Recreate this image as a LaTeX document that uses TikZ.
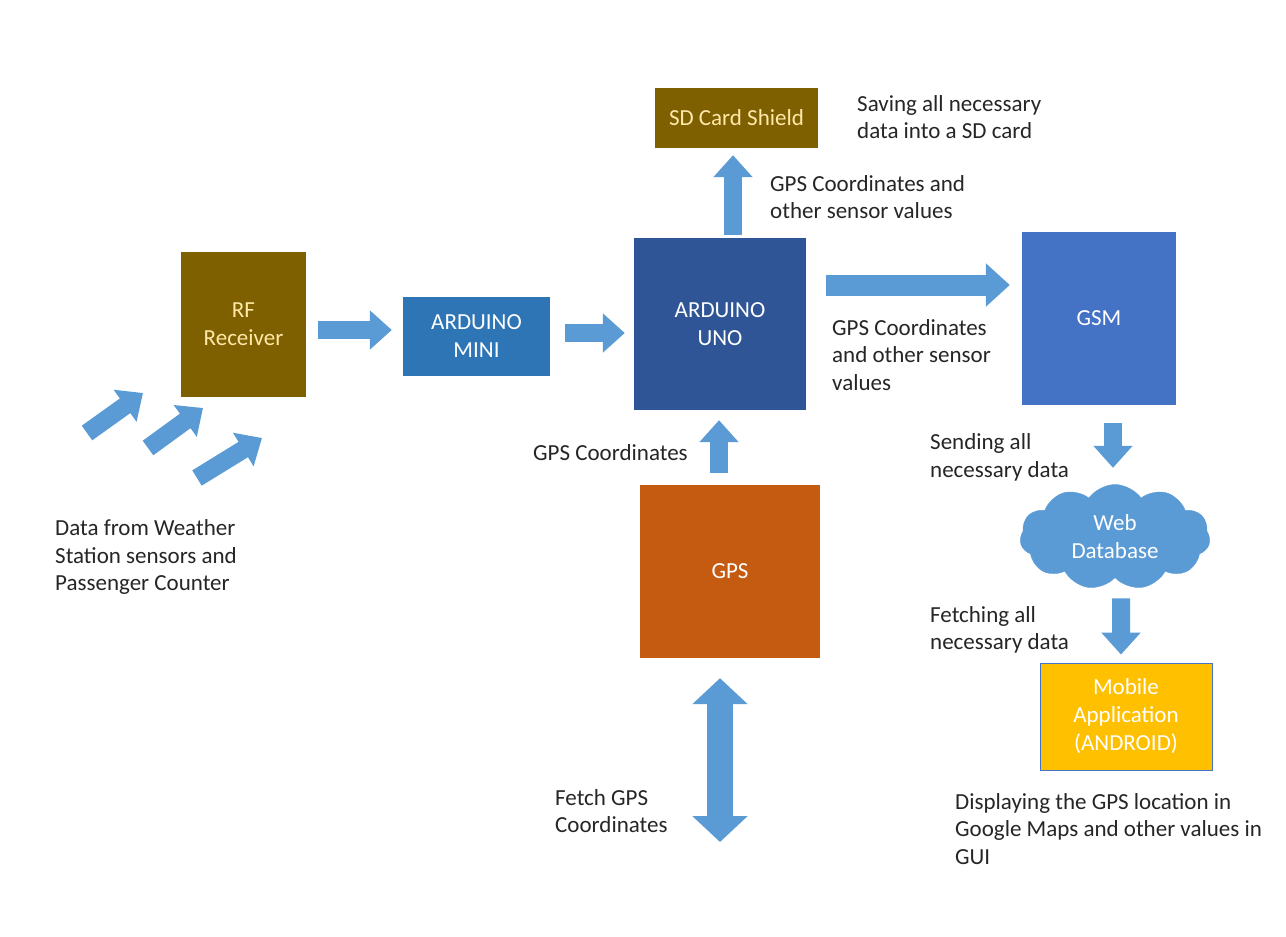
\documentclass[tikz,border=0pt]{standalone}
\usepackage{fontspec}
\setmainfont{Carlito}
\usetikzlibrary{arrows.meta,shapes.symbols,calc}
\definecolor{cbrown}{HTML}{7F6000}
\definecolor{cmini}{HTML}{2E75B6}
\definecolor{cuno}{HTML}{2F5597}
\definecolor{cgsm}{HTML}{4472C4}
\definecolor{cgps}{HTML}{C55A11}
\definecolor{cmob}{HTML}{FFC000}
\definecolor{ccloud}{HTML}{5B9BD5}
\definecolor{carrow}{HTML}{5B9BD5}
\definecolor{ctxt}{HTML}{262626}
\definecolor{cytxt}{HTML}{FFE8A8}
\tikzset{
  box/.style={rectangle, inner sep=0pt, align=center, font=\fontsize{23}{28}\selectfont},
  lbl/.style={anchor=west, inner sep=0pt, align=left, text=ctxt, font=\fontsize{23}{27.5}\selectfont},
  ba/.style={draw=carrow, line width=18pt, -{Triangle[width=38pt,length=22pt]}},
  bab/.style={draw=carrow, line width=21pt, -{Triangle[width=42pt,length=24pt]}},
}
\begin{document}
\begin{tikzpicture}[x=1pt,y=-1pt]
\useasboundingbox (0,0) rectangle (1286,937);
\fill[white] (0,0) rectangle (1286,937);
% boxes
\node[box, fill=cbrown, text=cytxt, minimum width=163pt, minimum height=60pt] (sd) at (736.5,118) {SD Card Shield};
\node[box, fill=cbrown, text=cytxt, minimum width=125pt, minimum height=145pt] (rf) at (243.5,324.5) {RF\\Receiver};
\node[box, fill=cmini, text=white, minimum width=147pt, minimum height=79pt] (mini) at (476.5,336.5) {ARDUINO\\MINI};
\node[box, fill=cuno, text=white, minimum width=172pt, minimum height=172pt] (uno) at (720,324) {ARDUINO\\UNO};
\node[box, fill=cgsm, text=white, minimum width=154pt, minimum height=173pt] (gsm) at (1099,318.5) {GSM};
\node[box, fill=cgps, text=white, minimum width=180pt, minimum height=173pt] (gps) at (730,571.5) {GPS};
\node[box, fill=cmob, draw=cgsm, line width=0.8pt, text=white, minimum width=172pt, minimum height=107pt] (mob) at (1126,716.5) {Mobile\\Application\\(ANDROID)};
\node[cloud, cloud puffs=11, cloud puff arc=110, aspect=1.8, fill=ccloud, draw=ccloud, text=white, inner sep=0pt, minimum width=190pt, minimum height=105pt, align=center, font=\fontsize{23}{28}\selectfont] (cloud) at (1115,537) {Web\\Database};
% arrows
\draw[ba] ($(rf.east)+(12,5.5)$) -- ($(mini.west)+(-11,-6.5)$);
\draw[ba] ($(mini.east)+(15,-3.5)$) -- ($(uno.west)+(-9,9)$);
\draw[bab] ($(uno.east)+(20,-39)$) -- ($(gsm.west)+(-12,-33.5)$);
\draw[ba] ($(uno.north)+(13,-3)$) -- ($(sd.south)+(-3.5,7)$);
\draw[ba] ($(gps.north)+(-11,-12)$) -- ($(uno.south)+(-1,10)$);
\draw[ba] ($(gsm.south)+(14,18)$) -- ($(cloud.north)+(-2,-16.5)$);
\draw[ba] ($(cloud.south)+(6,20.5)$) -- ($(mob.north)+(-5,-8)$);
\coordinate (fetch) at (720,842);
\draw[draw=carrow, line width=26pt, {Triangle[width=54pt,length=26pt]}-{Triangle[width=54pt,length=26pt]}] ($(gps.south)+(-10,20)$) -- (fetch);
\coordinate (s1a) at (87,433); \coordinate (s1b) at (143,393);
\coordinate (s2a) at (148,448); \coordinate (s2b) at (203,408);
\coordinate (s3a) at (197,478); \coordinate (s3b) at (262,438);
\draw[ba] (s1a) -- (s1b);
\draw[ba] (s2a) -- (s2b);
\draw[ba] (s3a) -- (s3b);
% labels
\node[lbl] (t1) at (857,117) {Saving all necessary\\data into a SD card};
\node[lbl] (t2) at (770,197) {GPS Coordinates and\\other sensor values};
\node[lbl] (t3) at (832,355) {GPS Coordinates\\and other sensor\\values};
\node[lbl] (t4) at (930,457.5) {Sending all\\necessary data};
\node[lbl] (t5) at (930,630) {Fetching all\\necessary data};
\node[lbl] (t6) at (955,829) {Displaying the GPS location in\\Google Maps and other values in\\GUI};
\node[lbl] (t7) at (533,453) {GPS Coordinates};
\node[lbl] (t8) at (555,811) {Fetch GPS\\Coordinates};
\node[lbl] (t9) at (55,557) {Data from Weather\\Station sensors and\\Passenger Counter};
\end{tikzpicture}
\end{document}
